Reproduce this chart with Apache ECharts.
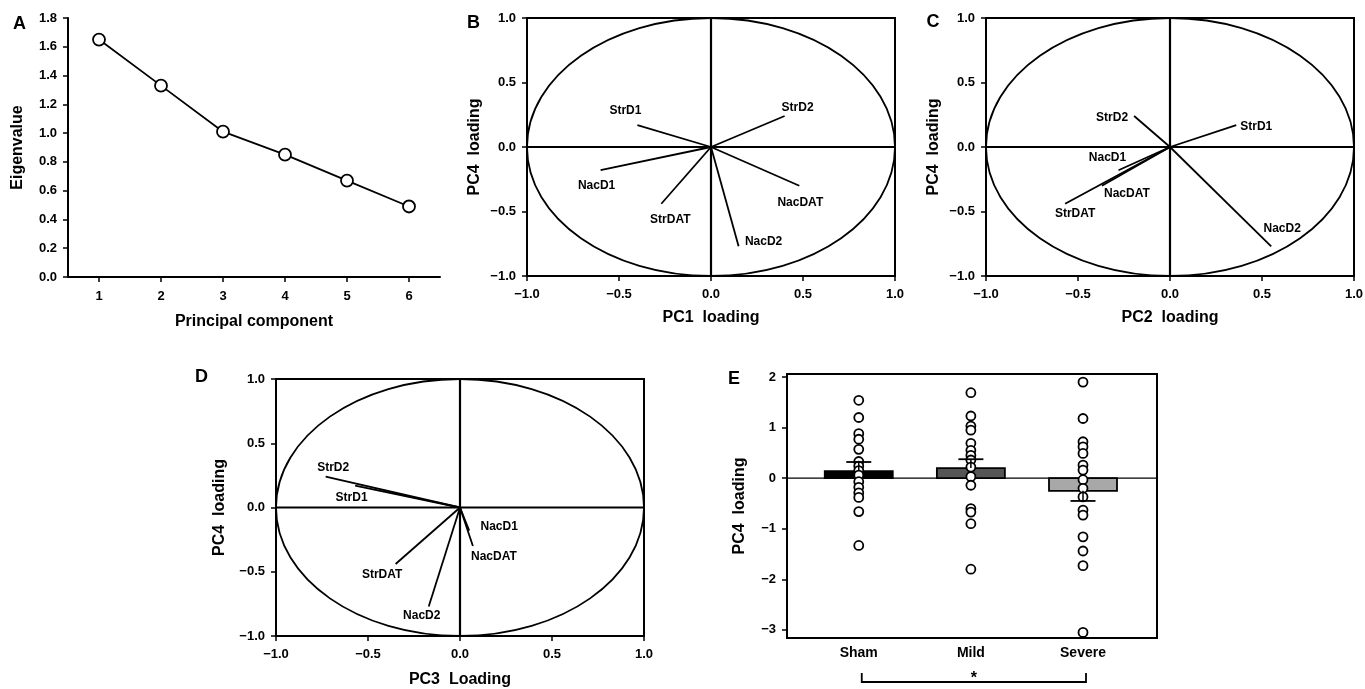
<!DOCTYPE html>
<html><head><meta charset="utf-8">
<script src="https://cdn.jsdelivr.net/npm/echarts@6/dist/echarts.min.js"></script>
<style>html,body{margin:0;padding:0;background:#fff}#c{width:1365px;height:689px}</style>
</head><body><div id="c"></div>
<script>
// ---- Panel A: scree plot ----
const components = ['1', '2', '3', '4', '5', '6'];
const eigenvalues = [1.65, 1.33, 1.01, 0.85, 0.67, 0.49];
const eigenTicks = [0, 0.2, 0.4, 0.6, 0.8, 1.0, 1.2, 1.4, 1.6, 1.8];

// ---- Panels B-D: loadings ----
const variables = ['StrD1', 'StrD2', 'NacD1', 'StrDAT', 'NacD2', 'NacDAT'];
const pc1Loading = [-0.40, 0.40, -0.60, -0.27, 0.15, 0.48];
const pc2Loading = [0.36, -0.195, -0.28, -0.57, 0.55, -0.37];
const pc3Loading = [-0.57, -0.73, 0.05, -0.35, -0.17, 0.07];
const pc4Loading = [0.17, 0.24, -0.18, -0.44, -0.77, -0.30];
const loadingTicks = [-1.0, -0.5, 0.0, 0.5, 1.0];

// ---- Panel E: PC4 scores by group ----
const groups = ['Sham', 'Mild', 'Severe'];
const groupMean = [0.14, 0.20, -0.25];
const groupSE = [0.18, 0.175, 0.20];
const shamScores = [1.54, 1.20, 0.88, 0.77, 0.57, 0.33, 0.24, 0.15, 0.06, -0.07, -0.18, -0.29, -0.38, -0.66, -1.33];
const mildScores = [1.69, 1.23, 1.03, 0.95, 0.69, 0.55, 0.45, 0.36, 0.22, 0.03, -0.14, -0.60, -0.67, -0.90, -1.80];
const severeScores = [1.90, 1.18, 0.72, 0.62, 0.49, 0.26, 0.16, -0.03, -0.20, -0.37, -0.63, -0.73, -1.16, -1.44, -1.73, -3.05];
const scoreTicks = [-3, -2, -1, 0, 1, 2];
const comparison = [0, 2]; // Sham vs Severe
const significance = '*';

// ---- styling (positions of labels relative to vector ends, px) ----
const labelOffsets = {
  B: [[-12, -14], [13, -8], [-4, 15], [9, 16], [25, -5], [1, 17]],
  C: [[20, 2], [-22, 2], [-11, -13], [10, 10], [11, -18], [25, 8]],
  D: [[-3.5, 12], [7.5, -8.5], [30, -4], [-13.5, 10.5], [-7, 9.5], [21, 11]]
};
const groupColors = ['#000000', '#555555', '#a8a8a8'];
const FONT = 'Liberation Sans';
const txt = (s) => ({ fontFamily: FONT, fontWeight: 'bold', fontSize: s, color: '#000' });
const fmt1 = (v) => (v < -1e-9 ? '\u2212' : '') + Math.abs(v).toFixed(1);
const fmt0 = (v) => (v < -1e-9 ? '\u2212' : '') + Math.abs(Math.round(v));

const chart = echarts.init(document.getElementById('c'), null, { renderer: 'canvas' });

const grids = [
  { left: 68, top: 18, width: 372, height: 259 },            // A
  { left: 527, top: 18, width: 368, height: 258, frame: 1 }, // B
  { left: 986, top: 18, width: 368, height: 258, frame: 1 }, // C
  { left: 276, top: 379, width: 368, height: 257, frame: 1 },// D
  { left: 787, top: 374, width: 370, height: 264, frame: 1 } // E
].map(g => ({
  left: g.left, top: g.top, width: g.width, height: g.height,
  containLabel: false, outerBoundsMode: 'none',
  show: !!g.frame, borderColor: '#000', borderWidth: 2, backgroundColor: 'transparent'
}));

const axisLineStyle = { show: true, onZero: false, lineStyle: { color: '#000', width: 2 } };
const tickStyle = { show: true, inside: false, length: 5, lineStyle: { color: '#000', width: 1.5 } };

function loadingX(gi, name, gap) {
  return {
    type: 'value', gridIndex: gi, min: loadingTicks[0], max: loadingTicks[loadingTicks.length - 1],
    interval: loadingTicks[1] - loadingTicks[0],
    name, nameLocation: 'middle', nameGap: gap, nameTextStyle: txt(16), nameMoveOverlap: false,
    axisLine: axisLineStyle, axisTick: tickStyle,
    axisLabel: Object.assign(txt(13), { margin: 12, formatter: fmt1 }),
    splitLine: { show: false }
  };
}
function loadingY(gi, name, gap) {
  return {
    type: 'value', gridIndex: gi, min: loadingTicks[0], max: loadingTicks[loadingTicks.length - 1],
    interval: loadingTicks[1] - loadingTicks[0],
    name, nameLocation: 'middle', nameGap: gap, nameTextStyle: txt(16), nameMoveOverlap: false,
    axisLine: axisLineStyle, axisTick: tickStyle,
    axisLabel: Object.assign(txt(13), { margin: 11, formatter: fmt1 }),
    splitLine: { show: false }
  };
}

const xAxis = [
  {
    type: 'category', gridIndex: 0, data: components, boundaryGap: true,
    name: 'Principal component', nameLocation: 'middle', nameGap: 37, nameTextStyle: txt(16), nameMoveOverlap: false,
    axisLine: axisLineStyle, axisTick: Object.assign({}, tickStyle, { alignWithLabel: true }),
    axisLabel: Object.assign(txt(13), { margin: 13 }), splitLine: { show: false }
  },
  loadingX(1, 'PC1  loading', 34),
  loadingX(2, 'PC2  loading', 34),
  loadingX(3, 'PC3  Loading', 36),
  {
    type: 'value', gridIndex: 4, min: 0.36, max: 3.66,
    axisLine: axisLineStyle, axisTick: { show: false },
    axisLabel: Object.assign(txt(14), { margin: 8, customValues: [1, 2, 3], formatter: (v) => groups[Math.round(v) - 1] }),
    splitLine: { show: false }
  }
];
const yAxis = [
  {
    type: 'value', gridIndex: 0, min: eigenTicks[0], max: eigenTicks[eigenTicks.length - 1],
    interval: eigenTicks[1] - eigenTicks[0],
    name: 'Eigenvalue', nameLocation: 'middle', nameGap: 42, nameTextStyle: txt(16), nameMoveOverlap: false,
    axisLine: axisLineStyle, axisTick: tickStyle,
    axisLabel: Object.assign(txt(13), { margin: 11, formatter: (v) => v.toFixed(1) }),
    splitLine: { show: false }
  },
  loadingY(1, 'PC4  loading', 44),
  loadingY(2, 'PC4  loading', 44),
  loadingY(3, 'PC4  loading', 48),
  {
    type: 'value', gridIndex: 4, min: -3.16, max: 2.06,
    name: 'PC4  loading', nameLocation: 'middle', nameGap: 39, nameTextStyle: txt(16), nameMoveOverlap: false,
    axisLine: axisLineStyle, axisTick: Object.assign({}, tickStyle, { customValues: scoreTicks }),
    axisLabel: Object.assign(txt(13), { margin: 11, customValues: scoreTicks, formatter: fmt0 }),
    splitLine: { show: false }
  }
];

function circleSeries(gi) {
  return {
    type: 'custom', xAxisIndex: gi, yAxisIndex: gi, silent: true, z: 1,
    data: [[0, 0]],
    renderItem: (params, api) => {
      const c = api.coord([0, 0]);
      const s = api.size([1, 1]);
      const l = api.coord([loadingTicks[0], 0]), r = api.coord([loadingTicks[loadingTicks.length - 1], 0]);
      const t = api.coord([0, loadingTicks[loadingTicks.length - 1]]), b = api.coord([0, loadingTicks[0]]);
      return {
        type: 'group', children: [
          { type: 'ellipse', shape: { cx: c[0], cy: c[1], rx: s[0], ry: s[1] }, style: { fill: 'none', stroke: '#000', lineWidth: 1.8 } },
          { type: 'line', shape: { x1: l[0], y1: l[1], x2: r[0], y2: r[1] }, style: { stroke: '#000', lineWidth: 2.2 } },
          { type: 'line', shape: { x1: t[0], y1: t[1], x2: b[0], y2: b[1] }, style: { stroke: '#000', lineWidth: 2.2 } }
        ]
      };
    }
  };
}
function vectorSeries(gi, xs, ys, offsets) {
  return {
    type: 'custom', xAxisIndex: gi, yAxisIndex: gi, silent: true, z: 2,
    data: variables.map((n, i) => [xs[i], ys[i], i]),
    renderItem: (params, api) => {
      const i = api.value(2);
      const o = api.coord([0, 0]);
      const p = api.coord([api.value(0), api.value(1)]);
      const off = offsets[i];
      return {
        type: 'group', children: [
          { type: 'line', shape: { x1: o[0], y1: o[1], x2: p[0], y2: p[1] }, style: { stroke: '#000', lineWidth: 1.8 } },
          { type: 'text', x: p[0] + off[0], y: p[1] + off[1],
            style: { text: variables[i], fill: '#000', font: 'bold 12px ' + FONT, align: 'center', verticalAlign: 'middle', textAlign: 'center', textVerticalAlign: 'middle' } }
        ]
      };
    }
  };
}

const series = [
  {
    type: 'line', xAxisIndex: 0, yAxisIndex: 0, data: eigenvalues, silent: true,
    symbol: 'circle', symbolSize: 12,
    itemStyle: { color: '#fff', borderColor: '#000', borderWidth: 1.8 },
    lineStyle: { color: '#000', width: 1.8 }
  },
  circleSeries(1), vectorSeries(1, pc1Loading, pc4Loading, labelOffsets.B),
  circleSeries(2), vectorSeries(2, pc2Loading, pc4Loading, labelOffsets.C),
  circleSeries(3), vectorSeries(3, pc3Loading, pc4Loading, labelOffsets.D),
  // E zero line
  {
    type: 'custom', xAxisIndex: 4, yAxisIndex: 4, silent: true, z: 1, data: [[0, 0]],
    renderItem: (params, api) => {
      const a = api.coord([0.36, 0]), b = api.coord([3.66, 0]);
      return { type: 'line', shape: { x1: a[0], y1: a[1], x2: b[0], y2: b[1] }, style: { stroke: '#000', lineWidth: 1.2 } };
    }
  },
  // E bars
  {
    type: 'custom', xAxisIndex: 4, yAxisIndex: 4, silent: true, z: 2,
    data: groups.map((g, i) => [i + 1, groupMean[i], i]),
    renderItem: (params, api) => {
      const i = api.value(2);
      const p0 = api.coord([api.value(0), 0]);
      const p1 = api.coord([api.value(0), api.value(1)]);
      const w = 68;
      return {
        type: 'rect',
        shape: { x: p0[0] - w / 2, y: Math.min(p0[1], p1[1]), width: w, height: Math.abs(p1[1] - p0[1]) },
        style: { fill: groupColors[i], stroke: '#000', lineWidth: 1.8 }
      };
    }
  },
  ...[shamScores, mildScores, severeScores].map((arr, gi) => ({
    type: 'scatter', xAxisIndex: 4, yAxisIndex: 4, silent: true, z: 3,
    data: arr.map(v => [gi + 1, v]),
    symbol: 'circle', symbolSize: 9,
    itemStyle: { color: '#fff', borderColor: '#000', borderWidth: 1.8, opacity: 1 }
  })),
  // E error bars
  {
    type: 'custom', xAxisIndex: 4, yAxisIndex: 4, silent: true, z: 4,
    data: groups.map((g, i) => [i + 1, groupMean[i], groupSE[i]]),
    renderItem: (params, api) => {
      const x = api.value(0), m = api.value(1), se = api.value(2);
      const end = m + (m >= 0 ? se : -se);
      const p1 = api.coord([x, m]), p2 = api.coord([x, end]);
      const cw = 25;
      return {
        type: 'group', children: [
          { type: 'line', shape: { x1: p1[0], y1: p1[1], x2: p2[0], y2: p2[1] }, style: { stroke: '#000', lineWidth: 1.5 } },
          { type: 'line', shape: { x1: p2[0] - cw / 2, y1: p2[1], x2: p2[0] + cw / 2, y2: p2[1] }, style: { stroke: '#000', lineWidth: 1.8 } }
        ]
      };
    }
  },
  // E significance bracket
  {
    type: 'custom', xAxisIndex: 4, yAxisIndex: 4, silent: true, z: 4, clip: false,
    data: [[comparison[0] + 1, comparison[1] + 1]],
    renderItem: (params, api) => {
      const a = api.coord([api.value(0), -3.16]);
      const b = api.coord([api.value(1), -3.16]);
      const yl = a[1] + 44, yt = a[1] + 35;
      return {
        type: 'group', children: [
          { type: 'polyline', shape: { points: [[a[0] + 3, yt], [a[0] + 3, yl], [b[0] + 3, yl], [b[0] + 3, yt]] }, style: { fill: 'none', stroke: '#000', lineWidth: 1.8 } },
          { type: 'text', x: (a[0] + b[0]) / 2 + 3, y: a[1] + 33,
            style: { text: significance, fill: '#000', font: 'bold 16px ' + FONT, align: 'center', verticalAlign: 'top', textAlign: 'center', textVerticalAlign: 'top' } }
        ]
      };
    }
  }
];

const letters = [['A', 19.5, 24.5], ['B', 473.5, 23.5], ['C', 933, 22.5], ['D', 201.5, 377.5], ['E', 734, 379]];

chart.setOption({
  animation: false,
  backgroundColor: '#fff',
  grid: grids,
  xAxis, yAxis, series,
  graphic: letters.map(l => ({
    type: 'text', x: l[1], y: l[2], silent: true,
    style: { text: l[0], fill: '#000', font: 'bold 18px ' + FONT, align: 'center', verticalAlign: 'middle', textAlign: 'center', textVerticalAlign: 'middle' }
  }))
});
</script>
</body></html>
